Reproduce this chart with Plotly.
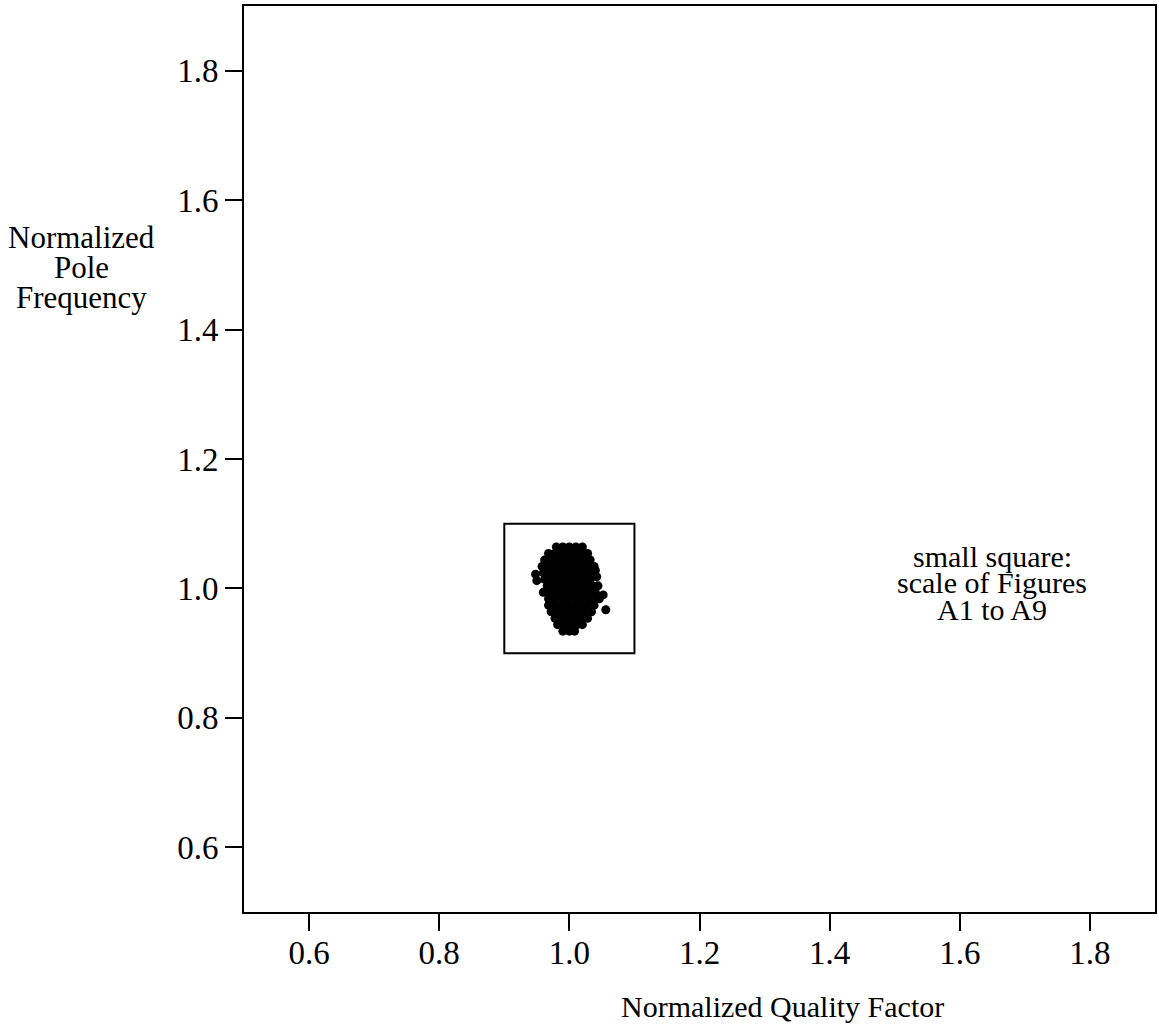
import plotly.graph_objects as go

# Normalized quality factor (x) and normalized pole frequency (y) of the Monte-Carlo cloud
quality = [
    0.980, 0.990, 1.000, 1.010, 1.020,
    0.968, 0.978, 0.988, 0.998, 1.008, 1.018, 1.028,
    0.962, 0.972, 0.982, 0.992, 1.002, 1.012, 1.022, 1.032,
    0.958, 0.968, 0.978, 0.988, 0.998, 1.008, 1.018, 1.028, 1.038,
    0.948, 0.960, 0.970, 0.980, 0.990, 1.000, 1.010, 1.020, 1.030, 1.040,
    0.950, 0.962, 0.972, 0.982, 0.992, 1.002, 1.012, 1.022, 1.032, 1.042,
    0.966, 0.976, 0.986, 0.996, 1.006, 1.016, 1.026, 1.036, 1.044,
    0.960, 0.970, 0.980, 0.990, 1.000, 1.010, 1.020, 1.030, 1.040, 1.052,
    0.968, 0.978, 0.988, 0.998, 1.008, 1.018, 1.028, 1.038, 1.046,
    0.968, 0.978, 0.988, 0.998, 1.008, 1.018, 1.028, 1.038,
    0.972, 0.982, 0.992, 1.002, 1.012, 1.022, 1.034, 1.056,
    0.978, 0.988, 0.998, 1.008, 1.018, 1.028,
    0.982, 0.992, 1.002, 1.012, 1.020,
    0.990, 1.000, 1.008,
]
pole_freq = [
    1.064, 1.064, 1.064, 1.064, 1.064,
    1.054, 1.054, 1.054, 1.054, 1.054, 1.054, 1.054,
    1.044, 1.044, 1.044, 1.044, 1.044, 1.044, 1.044, 1.044,
    1.034, 1.034, 1.034, 1.034, 1.034, 1.034, 1.034, 1.034, 1.034,
    1.022, 1.024, 1.024, 1.024, 1.024, 1.024, 1.024, 1.024, 1.024, 1.028,
    1.012, 1.014, 1.014, 1.014, 1.014, 1.014, 1.014, 1.014, 1.014, 1.018,
    1.004, 1.004, 1.004, 1.004, 1.004, 1.004, 1.004, 1.004, 1.004,
    0.994, 0.994, 0.994, 0.994, 0.994, 0.994, 0.994, 0.994, 0.994, 0.990,
    0.984, 0.984, 0.984, 0.984, 0.984, 0.984, 0.984, 0.984, 0.984,
    0.974, 0.974, 0.974, 0.974, 0.974, 0.974, 0.974, 0.974,
    0.964, 0.964, 0.964, 0.964, 0.964, 0.964, 0.964, 0.967,
    0.954, 0.954, 0.954, 0.954, 0.954, 0.954,
    0.944, 0.944, 0.944, 0.944, 0.944,
    0.934, 0.934, 0.934,
]

tick_vals = [0.6, 0.8, 1.0, 1.2, 1.4, 1.6, 1.8]
tick_text = ["0.6", "0.8", "1.0", "1.2", "1.4", "1.6", "1.8"]
axis_range = [0.5, 1.9]
square_lo, square_hi = 0.9, 1.1

FONT = "Liberation Serif, Times New Roman, serif"

fig = go.Figure()
fig.add_trace(go.Scatter(
    x=quality, y=pole_freq, mode="markers",
    marker=dict(color="black", size=9, line=dict(width=0)),
    showlegend=False, hoverinfo="skip",
))

fig.add_shape(type="rect", x0=square_lo, x1=square_hi, y0=square_lo, y1=square_hi,
              line=dict(color="black", width=2), fillcolor="rgba(0,0,0,0)")

axis_common = dict(
    range=axis_range, tickvals=tick_vals, ticktext=tick_text,
    showline=True, linecolor="black", linewidth=2, mirror=True,
    ticks="outside", ticklen=17, tickwidth=2, tickcolor="black",
    showgrid=False, zeroline=False,
    tickfont=dict(family=FONT, size=33, color="black"),
)
fig.update_xaxes(**axis_common, ticklabelstandoff=-7)
fig.update_yaxes(**axis_common, ticklabelstandoff=0)

ann = []
# x-axis title
ann.append(dict(text="Normalized Quality Factor", xref="paper", yref="paper",
                x=0.591, y=-0.104, showarrow=False, xanchor="center", yanchor="middle",
                font=dict(family=FONT, size=30, color="black")))
# y-axis title (three lines)
for txt, yy in [("Normalized", 0.745), ("Pole", 0.711), ("Frequency", 0.678)]:
    ann.append(dict(text=txt, xref="paper", yref="paper", x=-0.178, y=yy,
                    showarrow=False, xanchor="center", yanchor="middle",
                    font=dict(family=FONT, size=31, color="black")))
# note
for txt, yy in [("small square:", 1.050), ("scale of Figures", 1.009), ("A1 to A9", 0.968)]:
    ann.append(dict(text=txt, xref="x", yref="y", x=1.650, y=yy,
                    showarrow=False, xanchor="center", yanchor="middle",
                    font=dict(family=FONT, size=30, color="black")))

fig.update_layout(
    width=1159, height=1028,
    margin=dict(l=244, r=2, t=6, b=116),
    plot_bgcolor="white", paper_bgcolor="white",
    annotations=ann,
)

fig.write_html("out.html", config={"displayModeBar": False},
               post_script="document.body.style.margin='0';document.body.style.padding='0';")
